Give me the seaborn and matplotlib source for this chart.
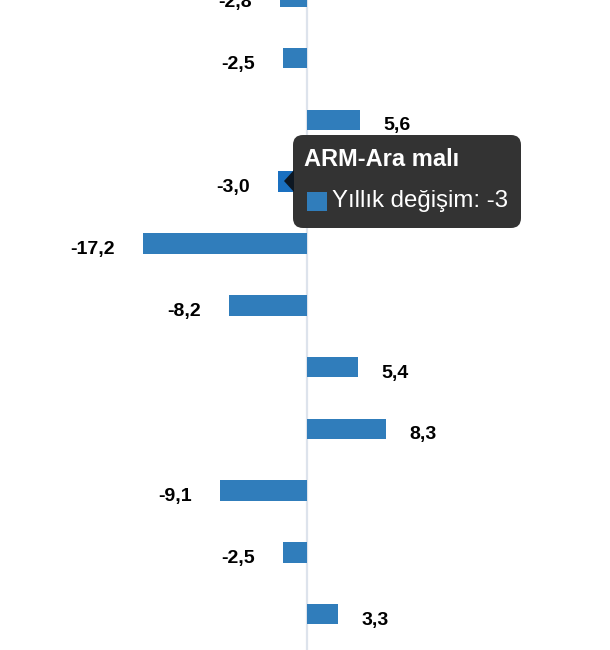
import matplotlib
matplotlib.use('Agg')
import matplotlib.pyplot as plt
import seaborn as sns
import pandas as pd
from matplotlib.patches import FancyBboxPatch, Polygon, Rectangle

# veriler (yukaridan asagiya)
kategoriler = ['K01', 'K02', 'K03', 'ARM-Ara malı', 'K05', 'K06',
               'K07', 'K08', 'K09', 'K10', 'K11']
degisim = [-2.8, -2.5, 5.6, -3.0, -17.2, -8.2, 5.4, 8.3, -9.1, -2.5, 3.3]
secili = 'ARM-Ara malı'
seri_adi = 'Yıllık değişim'

df = pd.DataFrame({'kategori': kategoriler, 'deger': degisim})

sns.set_style('white')
plt.rcParams['font.family'] = ['Liberation Sans', 'DejaVu Sans']

mavi = '#307dbb'
fig = plt.figure(figsize=(6.1, 6.5), dpi=100)
ax = fig.add_axes([0, 0, 1, 1])

renkler = ['#1a70c0' if k == secili else mavi for k in kategoriler]
sns.barplot(data=df, x='deger', y='kategori', hue='kategori', palette=renkler,
            orient='h', width=0.333, saturation=1, legend=False, ax=ax,
            linewidth=0, zorder=2)
ax.axvline(0, color='#dde3ec', lw=1.6, zorder=1)

ax.set_xlim(-32.2, 31.8)
ax.set_ylim(10.58, 0.06)
ax.axis('off')

# bar etiketleri
for i, v in enumerate(degisim):
    metin = f'{v:.1f}'.replace('.', ',')
    if v < 0:
        ax.annotate(metin, (v, i), xytext=(-28, -6), textcoords='offset pixels',
                    ha='right', va='center', fontsize=14, fontweight='bold',
                    color='black', annotation_clip=False)
    else:
        ax.annotate(metin, (v, i), xytext=(23, -6), textcoords='offset pixels',
                    ha='left', va='center', fontsize=14, fontweight='bold',
                    color='black', annotation_clip=False)

# tooltip (piksel koordinatlari)
ov = fig.add_axes([0, 0, 1, 1], zorder=5)
ov.set_xlim(0, 610)
ov.set_ylim(650, 0)
ov.axis('off')
ov.patch.set_alpha(0)

ov.add_patch(FancyBboxPatch((293, 135), 228, 93,
                            boxstyle='round,pad=0,rounding_size=10',
                            fc='#333333', ec='none'))
ov.add_patch(Polygon([(284, 181), (294, 170), (294, 192)], closed=True,
                     fc='#0d1722', ec='none'))
ov.text(304, 160, secili, color='white', fontsize=17, fontweight='bold',
        ha='left', va='center')
ov.add_patch(Rectangle((307, 192), 20, 19, fc=mavi, ec='none'))
ov.text(332, 201, f'{seri_adi}: -3', color='white', fontsize=17.3,
        ha='left', va='center')

fig.savefig('out.png', dpi=100)
